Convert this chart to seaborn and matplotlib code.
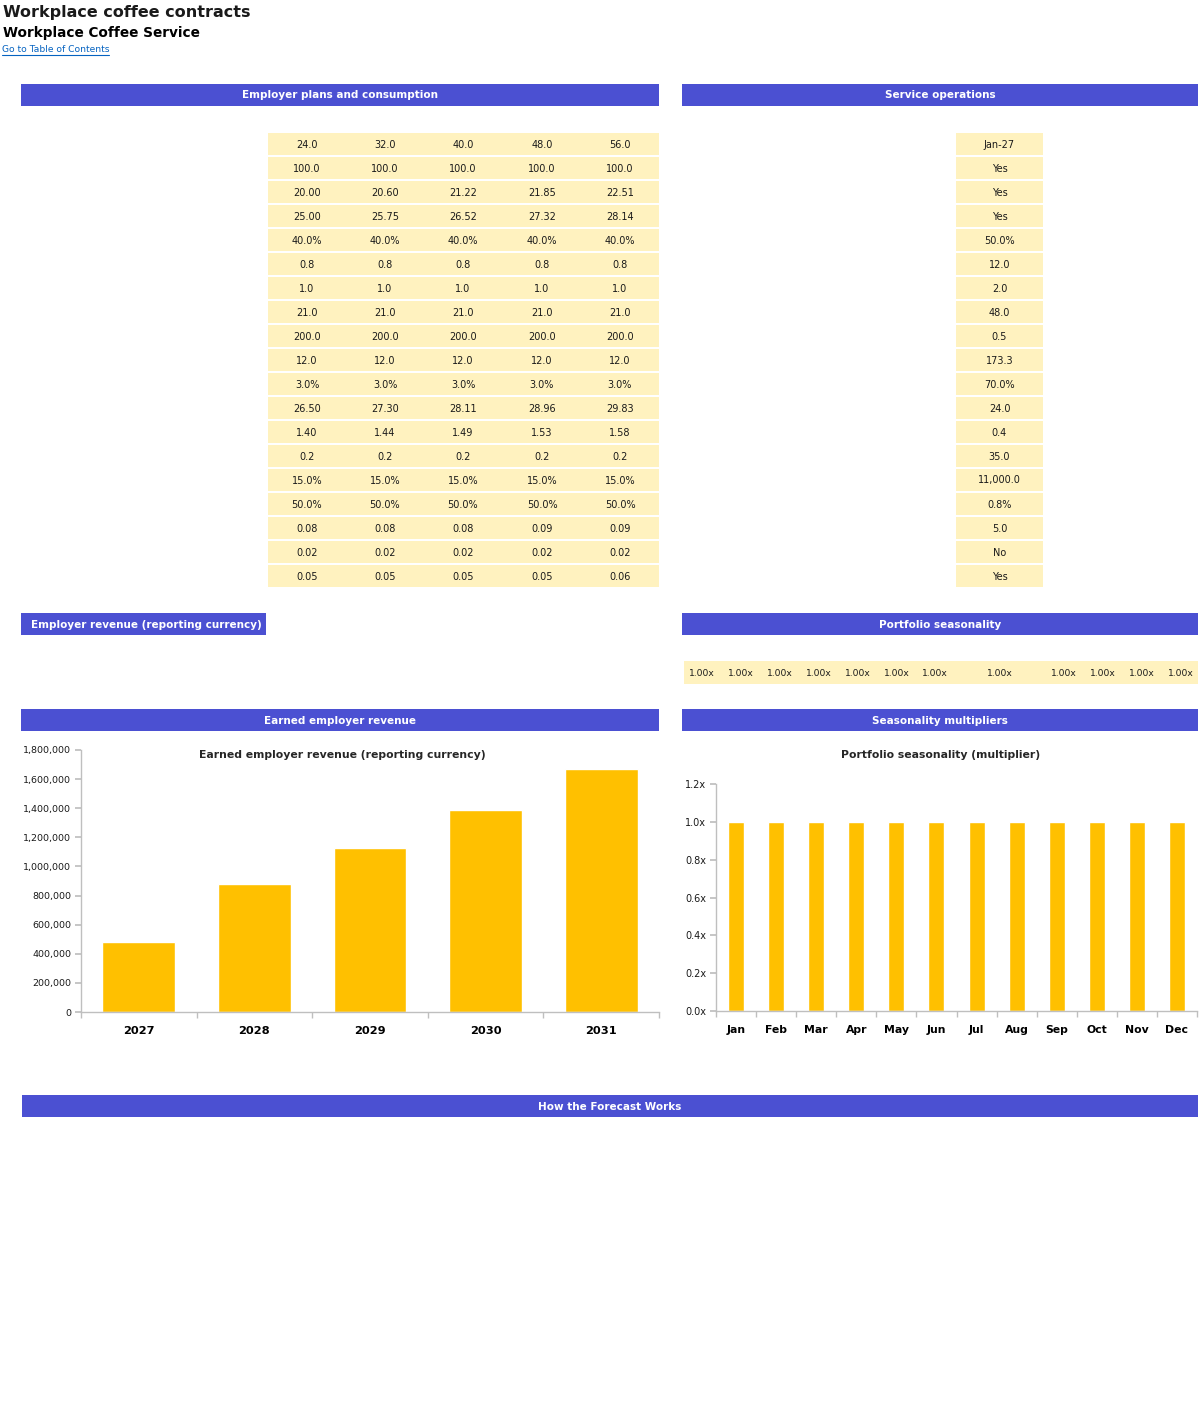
import matplotlib
matplotlib.use("Agg")
import matplotlib.pyplot as plt
from matplotlib.patches import Rectangle
from matplotlib.ticker import FuncFormatter, FixedLocator
import seaborn as sns
import pandas as pd

# ---------------- data ----------------
years = ["2027", "2028", "2029", "2030", "2031"]
revenue = [478000, 876000, 1125000, 1390000, 1672000]

months = ["Jan", "Feb", "Mar", "Apr", "May", "Jun", "Jul", "Aug", "Sep", "Oct", "Nov", "Dec"]
seasonality = [1.0] * 12
seasonality_labels = ["1.00x"] * 12

plans_col1 = ["24.0", "100.0", "20.00", "25.00", "40.0%", "0.8", "1.0", "21.0", "200.0", "12.0", "3.0%", "26.50", "1.40", "0.2", "15.0%", "50.0%", "0.08", "0.02", "0.05"]
plans_col2 = ["32.0", "100.0", "20.60", "25.75", "40.0%", "0.8", "1.0", "21.0", "200.0", "12.0", "3.0%", "27.30", "1.44", "0.2", "15.0%", "50.0%", "0.08", "0.02", "0.05"]
plans_col3 = ["40.0", "100.0", "21.22", "26.52", "40.0%", "0.8", "1.0", "21.0", "200.0", "12.0", "3.0%", "28.11", "1.49", "0.2", "15.0%", "50.0%", "0.08", "0.02", "0.05"]
plans_col4 = ["48.0", "100.0", "21.85", "27.32", "40.0%", "0.8", "1.0", "21.0", "200.0", "12.0", "3.0%", "28.96", "1.53", "0.2", "15.0%", "50.0%", "0.09", "0.02", "0.05"]
plans_col5 = ["56.0", "100.0", "22.51", "28.14", "40.0%", "0.8", "1.0", "21.0", "200.0", "12.0", "3.0%", "29.83", "1.58", "0.2", "15.0%", "50.0%", "0.09", "0.02", "0.06"]
operations = ["Jan-27", "Yes", "Yes", "Yes", "50.0%", "12.0", "2.0", "48.0", "0.5", "173.3", "70.0%", "24.0", "0.4", "35.0", "11,000.0", "0.8%", "5.0", "No", "Yes"]

# ---------------- style ----------------
sns.set_theme(style="white")
plt.rcParams["font.family"] = ["DejaVu Sans"]

W, H = 1200, 1407
BLUE = "#4B50D2"
CELL = "#FFF2BF"
GOLD = "#FFC000"
GREY = "#BFBFBF"
INK = "#1a1a1a"

fig = plt.figure(figsize=(W / 100, H / 100), dpi=100)
fig.patch.set_facecolor("white")

bg = fig.add_axes([0, 0, 1, 1])
bg.set_xlim(0, W)
bg.set_ylim(H, 0)
bg.axis("off")


def px(x, y, w, h):
    return [x / W, 1 - (y + h) / H, w / W, h / H]


def header(x0, x1, y0, y1, text, center=True):
    bg.add_patch(Rectangle((x0, y0), x1 - x0, y1 - y0, facecolor=BLUE, edgecolor="none"))
    tx = (x0 + x1) / 2 if center else x0 + 10
    bg.text(tx, (y0 + y1) / 2 + 0.5, text, color="white", fontsize=7.5, fontweight="bold",
            ha="center" if center else "left", va="center")


# titles
bg.text(3, 12, "Workplace coffee contracts", fontsize=11.5, fontweight="bold", color=INK, va="center")
bg.text(3, 33, "Workplace Coffee Service", fontsize=9.8, fontweight="bold", color="#000000", va="center")
bg.text(2, 49, "Go to Table of Contents", fontsize=6.6, color="#0563C1", va="center")
bg.plot([2, 109], [54.5, 54.5], color="#0563C1", lw=0.8)

# section headers
header(21, 659, 84, 106, "Employer plans and consumption")
header(682, 1198, 84, 106, "Service operations")
header(21, 266, 613, 635, "Employer revenue (reporting currency)", center=False)
header(682, 1198, 613, 635, "Portfolio seasonality")
header(21, 659, 709, 731, "Earned employer revenue")
header(682, 1198, 709, 731, "Seasonality multipliers")
header(22, 1198, 1095, 1117, "How the Forecast Works")

# tables
cols = [plans_col1, plans_col2, plans_col3, plans_col4, plans_col5]
col_x = [307, 385, 463, 542, 620]
row_top0, row_pitch, row_h = 133, 24, 22
for i in range(len(plans_col1)):
    yt = row_top0 + i * row_pitch
    bg.add_patch(Rectangle((268, yt), 659 - 268, row_h, facecolor=CELL, edgecolor="none"))
    bg.add_patch(Rectangle((956, yt), 1043 - 956, row_h, facecolor=CELL, edgecolor="none"))
    for c, cx in zip(cols, col_x):
        bg.text(cx, yt + row_h / 2 + 0.5, c[i], fontsize=7, ha="center", va="center", color=INK)
    bg.text(999.5, yt + row_h / 2 + 0.5, operations[i], fontsize=7, ha="center", va="center", color=INK)

# seasonality row
bg.add_patch(Rectangle((684, 661), 1198 - 684, 23, facecolor=CELL, edgecolor="none"))
season_x = [702, 741, 780, 819, 858, 897, 935, 1000, 1064, 1103, 1142, 1181]
for lab, sx in zip(seasonality_labels, season_x):
    bg.text(sx, 673, lab, fontsize=6.6, ha="center", va="center", color=INK)


def style_axis(ax, ylab_size, xlab_size):
    ax.set_xlabel("")
    ax.set_ylabel("")
    for s in ["top", "right"]:
        ax.spines[s].set_visible(False)
    for s in ["left", "bottom"]:
        ax.spines[s].set_color(GREY)
        ax.spines[s].set_linewidth(1)
    ax.tick_params(axis="y", left=True, length=4, color=GREY, labelsize=ylab_size, pad=3, labelcolor=INK)
    ax.tick_params(axis="x", bottom=False, labelsize=xlab_size, pad=4, labelcolor="#000000")
    for t in ax.get_xticklabels():
        t.set_fontweight("bold")
    n = len(ax.get_xticks())
    ax.xaxis.set_minor_locator(FixedLocator([i - 0.5 for i in range(n + 1)]))
    ax.tick_params(axis="x", which="minor", bottom=True, length=4, color=GREY)
    ax.patch.set_alpha(0)


# ---------------- revenue chart ----------------
ax1 = fig.add_axes(px(81, 750, 578, 262))
df1 = pd.DataFrame({"year": years, "revenue": revenue})
sns.barplot(data=df1, x="year", y="revenue", color=GOLD, saturation=1, width=0.63, ax=ax1)
ax1.set_ylim(0, 1800000)
ax1.set_xlim(-0.5, 4.5)
ax1.set_yticks(range(0, 1800001, 200000))
ax1.yaxis.set_major_formatter(FuncFormatter(lambda v, p: f"{int(v):,}"))
style_axis(ax1, 6.8, 8.2)
bg.text(342, 755, "Earned employer revenue (reporting currency)", fontsize=7.8, fontweight="bold",
        ha="center", va="center")

# ---------------- seasonality chart ----------------
ax2 = fig.add_axes(px(716, 784, 481, 227))
df2 = pd.DataFrame({"month": months, "mult": seasonality})
sns.barplot(data=df2, x="month", y="mult", color=GOLD, saturation=1, width=0.4, ax=ax2)
ax2.set_ylim(0, 1.2)
ax2.set_xlim(-0.5, 11.5)
ax2.set_yticks([0, 0.2, 0.4, 0.6, 0.8, 1.0, 1.2])
ax2.yaxis.set_major_formatter(FuncFormatter(lambda v, p: f"{v:.1f}x"))
style_axis(ax2, 7, 7.8)
bg.text(941, 755, "Portfolio seasonality (multiplier)", fontsize=7.8, fontweight="bold",
        ha="center", va="center")

fig.savefig("out.png", dpi=100, facecolor="white")
